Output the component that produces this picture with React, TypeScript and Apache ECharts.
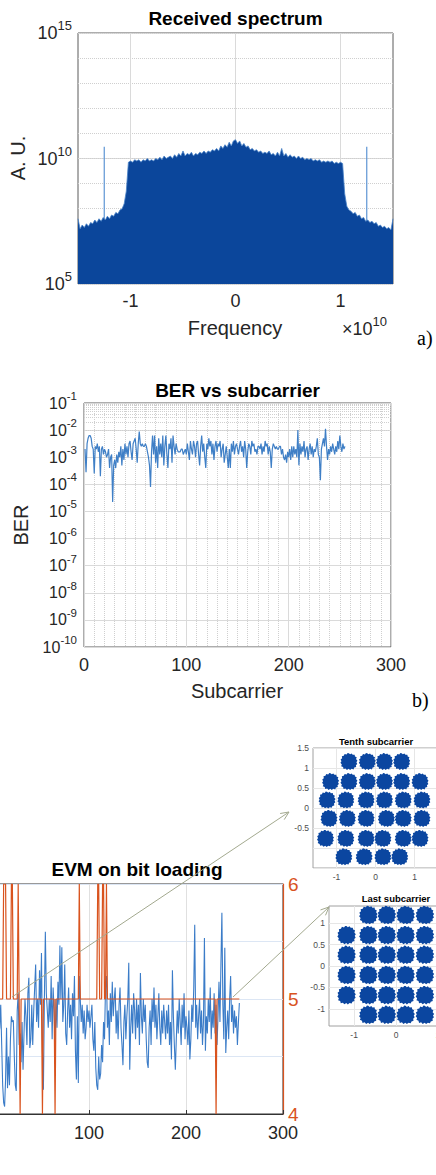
import React, { useEffect, useRef } from "react";
import * as echarts from "echarts";

const SANS = '"Liberation Sans", Arial, Helvetica, sans-serif';
const SERIF = '"Liberation Serif", "Times New Roman", serif';

// ---------------- a) Received spectrum ----------------
const spectrumStartHz = -1.5e10;
const spectrumStepHz = 0.02e10;
// log10 of the received power, one value per 0.02e10 Hz from -1.5e10 to 1.5e10
const spectrumLog10 = [
  7.6, 7.2, 7.35, 7.25, 7.4, 7.3, 7.45, 7.4, 7.55, 7.45,
  7.6, 7.5, 7.65, 7.55, 7.7, 7.6, 7.75, 7.7, 7.85, 7.8,
  7.95, 8.0, 8.2, 8.7, 9.85,
  9.9, 9.85, 9.95, 9.9, 9.95, 9.85, 9.95, 9.9, 10.0, 9.9,
  9.95, 9.9, 10.0, 9.95, 10.05, 9.95, 10.1, 10.0, 10.05, 10.1,
  10.0, 10.15, 10.05, 10.2, 10.1, 10.3, 10.1, 10.2, 10.15, 10.25,
  10.1, 10.2, 10.15, 10.25, 10.2, 10.3, 10.2, 10.3, 10.25, 10.35,
  10.3, 10.4, 10.3, 10.5, 10.4, 10.55, 10.45, 10.65, 10.5, 10.7,
  10.75,
  10.6, 10.7, 10.5, 10.6, 10.45, 10.5, 10.35, 10.4, 10.3, 10.35,
  10.25, 10.3, 10.2, 10.25, 10.2, 10.3, 10.15, 10.2, 10.1, 10.25,
  10.1, 10.4, 10.1, 10.2, 10.05, 10.15, 10.05, 10.1, 10.0, 10.1,
  10.0, 10.05, 9.95, 10.0, 9.95, 10.0, 9.9, 9.95, 9.9, 9.95,
  9.85, 9.9, 9.85, 9.9, 9.85, 9.9, 9.8, 9.85, 9.8, 9.85,
  9.8,
  8.6, 8.1, 7.95, 7.9, 7.8, 7.85, 7.7, 7.75, 7.6, 7.65,
  7.5, 7.55, 7.45, 7.5, 7.4, 7.45, 7.3, 7.35, 7.25, 7.3,
  7.2, 7.25, 7.15, 7.6,
];
const pilotFreqsHz = [-1.25e10, 1.25e10];
const pilotPeakLog10 = [10.47, 10.47];

// ---------------- b) BER vs subcarrier ----------------
// log10(BER) for subcarriers 1..255
const berLog10 = [
  -2.7, -3.55, -2.5, -2.3, -2.2, -2.2, -2.3, -2.6, -2.7, -3.6, -2.6, -2.7, -2.5, -2.8, -2.6,
  -3.7, -2.7, -2.6, -2.9, -2.7, -2.8, -3.0, -2.9, -2.7, -3.4, -3.0, -2.9, -4.65, -3.3, -3.1,
  -3.4, -2.9, -3.2, -2.8, -3.0, -2.6, -3.3, -2.7, -3.1, -2.5, -2.9, -2.6, -3.0, -2.5, -2.4,
  -2.8, -3.1, -2.5, -2.4, -2.3, -2.7, -3.2, -2.5, -2.05, -2.5, -2.6, -2.5, -2.6, -2.6, -2.5,
  -2.6, -2.8, -3.0, -3.3, -4.1, -2.8, -2.2, -2.9, -2.2, -3.2, -2.6, -3.4, -2.3, -2.9, -2.5,
  -3.0, -2.2, -3.3, -2.6, -2.2, -2.9, -3.4, -2.5, -2.7, -2.3, -3.2, -2.2, -2.6, -2.9, -2.5,
  -2.7, -2.8, -2.8, -2.8, -2.7, -2.7, -2.9, -2.8, -2.7, -2.9, -2.5, -2.8, -3.1, -2.4, -2.7,
  -2.9, -2.4, -2.6, -3.0, -2.5, -2.4, -2.9, -3.3, -2.6, -2.2, -2.8, -2.5, -3.0, -3.4, -2.5,
  -2.7, -2.3, -2.6, -2.4, -2.9, -2.5, -3.1, -2.6, -2.4, -2.8, -2.5, -2.6, -2.4, -3.0, -2.7,
  -2.5, -3.2, -2.9, -2.6, -3.0, -3.4, -2.7, -3.4, -2.5, -2.8, -2.4, -2.9, -2.6, -2.5, -2.7,
  -2.9, -2.6, -2.4, -2.8, -2.6, -3.0, -2.4, -2.7, -3.4, -2.8, -2.5, -2.6, -2.9, -2.4, -2.6,
  -2.5, -2.8, -2.7, -2.9, -2.6, -2.6, -2.7, -2.5, -2.9, -2.6, -2.8, -2.4, -2.6, -2.5, -2.9,
  -2.6, -2.8, -3.4, -2.7, -2.5, -2.6, -2.7, -2.6, -2.7, -2.7, -2.6, -2.6, -2.9, -2.7, -3.0,
  -3.1, -2.9, -3.2, -2.8, -3.0, -2.7, -3.1, -2.6, -3.0, -2.6, -2.9, -2.7, -3.0, -2.0, -3.3,
  -2.5, -2.9, -2.6, -2.8, -2.4, -3.0, -2.7, -2.6, -3.1, -2.7, -2.5, -2.9, -2.6, -3.0, -2.7,
  -2.8, -2.6, -2.3, -2.9, -3.0, -3.85, -2.7, -2.5, -2.3, -2.6, -1.95, -2.6, -3.1, -2.7, -2.9,
  -2.6, -2.8, -2.5, -2.7, -2.9, -2.6, -2.8, -2.4, -2.7, -2.2, -2.6, -2.8, -2.5, -2.7, -2.6,
];
const berMinorMultipliers = [2, 3, 4, 5, 6, 7, 8, 9];
const berDecades = [-10, -9, -8, -7, -6, -5, -4, -3, -2];

// ---------------- c) EVM on bit loading ----------------
// EVM (left axis, arbitrary units) for subcarriers 1..255
const evmValues = [
  1.5, 1.7, 1.3, 1.8, 1.2, 1.6, 1.4, 1.5, 1.9, 1.2, 0.5, 0.2, 0.13, 0.6, 1.5,
  0.45, 1.0, 0.5, 1.3, 1.7, 1.6, 1.63, 1.0, 0.5, 0.4, 1.8, 2.1, 1.2, 1.4, 0.9,
  1.6, 0.77, 1.4, 2.0, 1.7, 1.2, 2.1, 2.37, 1.15, 1.3, 1.9, 1.2, 1.8, 2.2, 2.6,
  1.6, 2.0, 1.5, 2.5, 1.9, 2.8, 1.1, 0.42, 2.0, 3.17, 2.1, 1.8, 1.5, 2.0, 1.6,
  2.4, 1.3, 2.2, 1.8, 1.2, 2.0, 1.5, 2.3, 1.9, 2.93, 2.0, 2.9, 1.6, 1.9, 2.6,
  1.4, 1.2, 1.8, 2.2, 1.5, 1.9, 1.3, 2.1, 1.7, 2.4, 1.1, 0.6, 1.7, 0.54, 2.4,
  2.0, 1.6, 1.9, 1.4, 1.8, 1.3, 1.5, 1.9, 1.6, 1.8, 1.5, 1.7, 1.9, 1.3, 1.1,
  1.6, 0.8, 0.5, 0.42, 1.0, 0.6, 0.7, 1.2, 0.9, 1.6, 1.3, 2.2, 2.4, 1.5, 1.8,
  1.2, 2.1, 1.6, 2.3, 1.7, 2.0, 2.2, 1.4, 1.8, 1.3, 1.9, 2.2, 1.5, 1.2, 0.85,
  1.6, 1.9, 1.3, 1.7, 2.0, 2.63, 0.77, 1.5, 1.9, 1.4, 2.1, 1.8, 1.3, 2.0, 1.5,
  1.9, 1.2, 2.45, 1.7, 1.4, 2.0, 1.6, 1.9, 1.3, 0.9, 0.8, 1.5, 1.8, 1.2, 2.0,
  1.6, 2.2, 1.5, 1.9, 1.3, 1.7, 2.1, 1.5, 1.2, 1.8, 1.4, 1.9, 1.6, 1.3, 1.8,
  1.4, 1.9, 1.2, 1.6, 0.95, 2.5, 1.7, 1.2, 0.77, 1.3, 1.8, 1.4, 2.0, 1.6, 1.2,
  1.9, 1.5, 2.1, 1.3, 1.7, 1.5, 1.2, 1.8, 0.95, 1.3, 1.9, 1.6, 2.2, 3.29, 1.5,
  1.9, 1.3, 1.7, 2.0, 1.4, 1.8, 1.2, 1.6, 3.06, 1.1, 1.7, 1.4, 2.0, 1.6, 2.2,
  1.3, 1.8, 1.5, 2.1, 1.4, 1.9, 1.2, 1.7, 2.3, 1.6, 2.6, 3.5, 1.9, 1.3, 2.89,
  1.06, 1.5, 1.8, 1.3, 2.0, 2.4, 1.6, 1.9, 1.4, 1.8, 1.5, 1.7, 1.2, 1.58, 1.93,
];
// bits per symbol (right axis) for subcarriers 1..255
const bitLoading = [
  5, 5, 5, 5, 5, 5, 5, 5, 5, 5, 5, 6, 6, 6, 5,
  5, 5, 5, 5, 6, 6, 5, 5, 5, 5, 5, 6, 5, 4, 5,
  5, 5, 5, 5, 5, 5, 5, 5, 5, 5, 5, 5, 5, 5, 5,
  5, 5, 5, 5, 5, 5, 4, 5, 5, 5, 5, 5, 5, 5, 5,
  5, 5, 5, 5, 4, 5, 5, 5, 5, 5, 5, 5, 5, 5, 5,
  5, 5, 5, 5, 5, 5, 5, 5, 5, 5, 5, 5, 5, 5, 6,
  5, 5, 5, 5, 5, 5, 5, 5, 5, 5, 5, 5, 5, 5, 5,
  5, 5, 5, 6, 6, 5, 5, 5, 6, 6, 5, 5, 6, 5, 5,
  5, 5, 5, 5, 5, 5, 5, 5, 5, 5, 5, 5, 5, 5, 5,
  5, 5, 5, 5, 5, 5, 5, 5, 5, 5, 5, 5, 5, 5, 5,
  5, 5, 5, 5, 5, 5, 5, 5, 5, 5, 5, 5, 5, 5, 5,
  5, 5, 5, 5, 5, 5, 5, 5, 5, 5, 5, 5, 5, 5, 5,
  5, 5, 5, 5, 5, 5, 5, 5, 5, 5, 5, 5, 5, 5, 5,
  5, 5, 5, 5, 5, 5, 5, 5, 5, 5, 5, 5, 5, 5, 5,
  5, 5, 5, 5, 5, 5, 5, 5, 5, 5, 5, 5, 5, 5, 5,
  5, 5, 5, 5, 5, 4, 5, 5, 5, 5, 5, 5, 5, 5, 5,
  5, 5, 5, 5, 5, 5, 5, 5, 5, 5, 5, 5, 5, 5, 5,
];

// ---------------- constellation insets (cluster centres) ----------------
const tenthClusters = [
  [-0.68, 1.16], [-0.21, 1.16], [0.23, 1.16], [0.67, 1.16],
  [-1.15, 0.66], [-0.68, 0.66], [-0.21, 0.66], [0.23, 0.66], [0.67, 0.66], [1.14, 0.66],
  [-1.24, 0.2], [-0.76, 0.2], [-0.24, 0.2], [0.23, 0.2], [0.71, 0.2], [1.19, 0.2],
  [-1.19, -0.26], [-0.72, -0.26], [-0.24, -0.26], [0.28, -0.26], [0.71, -0.26], [1.19, -0.26],
  [-1.28, -0.76], [-0.76, -0.76], [-0.24, -0.76], [0.19, -0.76], [0.71, -0.76], [1.14, -0.76],
  [-0.81, -1.22], [-0.29, -1.22], [0.19, -1.22], [0.62, -1.22],
];
const lastClusters = [
  [-0.66, 1.19], [-0.22, 1.19], [0.23, 1.19], [0.69, 1.19],
  [-1.18, 0.72], [-0.66, 0.72], [-0.22, 0.72], [0.23, 0.72], [0.69, 0.72], [1.17, 0.72],
  [-1.18, 0.26], [-0.66, 0.26], [-0.22, 0.26], [0.23, 0.26], [0.69, 0.26], [1.17, 0.26],
  [-1.18, -0.21], [-0.66, -0.21], [-0.22, -0.21], [0.23, -0.21], [0.69, -0.21], [1.17, -0.21],
  [-1.18, -0.68], [-0.66, -0.68], [-0.22, -0.68], [0.23, -0.68], [0.69, -0.68], [1.17, -0.68],
  [-0.66, -1.14], [-0.22, -1.14], [0.23, -1.14], [0.69, -1.14],
];

const BLOB =
  "path://M50,3 L57,9 L66,4 L72,12 L83,11 L85,21 L95,26 L91,36 L99,45 L93,53 L98,63 L90,70 L92,81 L81,84 L77,94 L66,91 L57,98 L49,91 L39,97 L31,89 L20,92 L17,81 L6,76 L10,66 L2,57 L8,48 L3,38 L12,31 L10,20 L21,17 L26,7 L37,10 L43,2 Z";

const T = "rgba(0,0,0,0)";
const AXIS_TXT = "#262626";
const GRID_MAJOR = "#dadada";
const GRID_MINOR = "#cfcfcf";
const BOX = "#5a5a5a";
const LINE_BLUE = "#3f7fc6";
const RED = "#d9531e";

function arrow(x1: number, y1: number, x2: number, y2: number) {
  const color = "#a3a98f";
  const a = Math.atan2(y2 - y1, x2 - x1);
  const L = 9;
  const w = 0.42;
  const p1 = [x2 - L * Math.cos(a - w), y2 - L * Math.sin(a - w)];
  const p2 = [x2 - L * Math.cos(a + w), y2 - L * Math.sin(a + w)];
  return [
    { type: "line", z: 100, shape: { x1, y1, x2, y2 }, style: { stroke: color, lineWidth: 1 } },
    { type: "polyline", z: 100, shape: { points: [p1, [x2, y2], p2] }, style: { stroke: color, fill: null, lineWidth: 1 } },
  ];
}

function txt(x: number, y: number, text: string, font: string, opts: any = {}) {
  return {
    type: "text",
    x,
    y,
    z: 100,
    rotation: opts.rotation || 0,
    style: {
      text,
      font,
      fill: opts.fill || "#000",
      textAlign: opts.align || "center",
      textVerticalAlign: "middle",
      rich: opts.rich,
    },
  };
}

export default function App() {
  const ref = useRef<HTMLDivElement>(null);
  useEffect(() => {
    if (!ref.current) return;
    const chart = echarts.init(ref.current, undefined, { renderer: "svg" });

    const specData = spectrumLog10.map((v, i) => [spectrumStartHz + i * spectrumStepHz, Math.pow(10, v)]);
    const berData = berLog10.map((v, i) => [i + 1, Math.pow(10, v)]);
    const evmData = evmValues.map((v, i) => [i + 1, v]);
    const bitData = bitLoading.map((v, i) => [i + 1, v]);
    const berMinor: number[] = [];
    berDecades.forEach((d) => berMinorMultipliers.forEach((m) => berMinor.push(m * Math.pow(10, d))));

    const logFmt = (v: number) => "{b|10}{s|" + Math.round(Math.log10(v)) + "}";

    const insetAxisLabel = { color: "#4d4d4d", fontSize: 8.5, fontFamily: SANS, margin: 4 };
    const gridBase = { show: true, borderWidth: 1, containLabel: false, outerBoundsMode: "none" };

    const option: any = {
      animation: false,
      backgroundColor: "#fff",
      textStyle: { fontFamily: SANS },
      grid: [
        { ...gridBase, left: 78, top: 33, width: 315, height: 251, borderColor: BOX },
        { ...gridBase, left: 84, top: 403, width: 307, height: 244, borderColor: BOX },
        { ...gridBase, left: -8, top: 884, width: 291, height: 230, borderColor: "#333" },
        { ...gridBase, left: 313, top: 748, width: 125, height: 120, borderColor: "#a0a0a0" },
        { ...gridBase, left: 329, top: 906, width: 134, height: 120, borderColor: "#a0a0a0" },
      ],
      xAxis: [
        {
          gridIndex: 0, type: "value", min: -1.5e10, max: 1.5e10, interval: 0.5e10,
          axisLine: { show: false }, axisTick: { show: false },
          axisLabel: {
            color: AXIS_TXT, fontSize: 18, margin: 8,
            formatter: (v: number) => (Math.abs(v / 1e10 - Math.round(v / 1e10)) < 1e-6 ? String(Math.round(v / 1e10)) : ""),
          },
          splitLine: { show: true, lineStyle: { color: [T, GRID_MAJOR], width: 1 } },
        },
        {
          gridIndex: 1, type: "value", min: 0, max: 300, interval: 100,
          axisLine: { show: false }, axisTick: { show: false },
          axisLabel: { color: AXIS_TXT, fontSize: 18, margin: 9 },
          splitLine: { show: true, lineStyle: { color: GRID_MAJOR } },
          minorTick: { show: false, splitNumber: 10 },
          minorSplitLine: { show: true, lineStyle: { color: GRID_MINOR, type: "dotted" } },
        },
        {
          gridIndex: 2, type: "value", min: 0, max: 300, interval: 100,
          axisLine: { show: true, lineStyle: { color: "#333" } },
          axisTick: { show: true, inside: true, length: 4, lineStyle: { color: "#333" } },
          axisLabel: { color: AXIS_TXT, fontSize: 18, margin: 10, formatter: (v: number) => (v === 0 ? "" : String(v)) },
          splitLine: { show: true, lineStyle: { color: "#e0e0e0" } },
        },
        {
          gridIndex: 3, type: "value", min: -1.6, max: 1.6, interval: 0.2,
          axisLine: { show: false }, axisTick: { show: false },
          axisLabel: { ...insetAxisLabel, formatter: (v: number) => (Math.abs(v - Math.round(v)) < 1e-6 ? String(Math.round(v)) : "") },
          splitLine: { show: true, lineStyle: { color: [T, T, T, "#e6e6e6", T] } },
        },
        {
          gridIndex: 4, type: "value", min: -1.6, max: 1.6, interval: 0.2,
          axisLine: { show: false }, axisTick: { show: false },
          axisLabel: { ...insetAxisLabel, formatter: (v: number) => (Math.abs(v - Math.round(v)) < 1e-6 ? String(Math.round(v)) : "") },
          splitLine: { show: true, lineStyle: { color: [T, T, T, "#e6e6e6", T] } },
        },
      ],
      yAxis: [
        {
          gridIndex: 0, type: "log", logBase: 10, min: 1e5, max: 1e15, interval: 5, splitNumber: 2,
          axisLine: { show: false }, axisTick: { show: false },
          axisLabel: {
            color: AXIS_TXT, margin: 6, formatter: logFmt,
            rich: {
              b: { fontSize: 18, color: AXIS_TXT, fontFamily: SANS },
              s: { fontSize: 13, color: AXIS_TXT, fontFamily: SANS, padding: [0, 0, 15, 0] },
            },
          },
          splitLine: { show: true, lineStyle: { color: GRID_MAJOR } },
        },
        {
          gridIndex: 0, type: "value", min: 5, max: 15, interval: 1, position: "left",
          axisLine: { show: false }, axisTick: { show: false }, axisLabel: { show: false },
          splitLine: { show: true, lineStyle: { color: GRID_MINOR, type: "dotted" } },
        },
        {
          gridIndex: 1, type: "log", logBase: 10, min: 1e-10, max: 1e-1, interval: 1, splitNumber: 9,
          axisLine: { show: false }, axisTick: { show: false },
          axisLabel: {
            color: AXIS_TXT, margin: 7, formatter: logFmt,
            rich: {
              b: { fontSize: 16, color: AXIS_TXT, fontFamily: SANS },
              s: { fontSize: 11.5, color: AXIS_TXT, fontFamily: SANS, padding: [0, 0, 14, 0] },
            },
          },
          splitLine: { show: true, lineStyle: { color: GRID_MAJOR } },
        },
        {
          gridIndex: 2, type: "value", min: 0, max: 4, interval: 1, position: "left",
          axisLine: { show: false }, axisTick: { show: false }, axisLabel: { show: false },
          splitLine: { show: true, lineStyle: { color: "#dce6f4" } },
        },
        {
          gridIndex: 2, type: "value", min: 4, max: 6, interval: 1, position: "right",
          axisLine: { show: true, lineStyle: { color: RED, width: 1.2 } },
          axisTick: { show: false },
          axisLabel: { color: RED, fontSize: 19, margin: 5 },
          splitLine: { show: false },
        },
        {
          gridIndex: 3, type: "value", min: -1.5, max: 1.5, interval: 0.5,
          axisLine: { show: false }, axisTick: { show: false },
          axisLabel: { ...insetAxisLabel, formatter: (v: number) => (v < -0.75 ? "" : String(v)) },
          splitLine: { show: true, lineStyle: { color: "#e6e6e6" } },
        },
        {
          gridIndex: 4, type: "value", min: -1.4, max: 1.4, interval: 0.1,
          axisLine: { show: false }, axisTick: { show: false },
          axisLabel: {
            ...insetAxisLabel,
            formatter: (v: number) => (Math.abs(v * 2 - Math.round(v * 2)) < 1e-6 ? String(Math.round(v * 2) / 2) : ""),
          },
          splitLine: { show: true, lineStyle: { color: [T, T, T, T, "#e6e6e6"] } },
        },
      ],
      series: [
        ...pilotFreqsHz.map((f, i) => ({
          type: "line", xAxisIndex: 0, yAxisIndex: 0, z: 1, symbol: "none", silent: true,
          data: [[f, 1e5], [f, Math.pow(10, pilotPeakLog10[i])]],
          lineStyle: { color: "#5d95d4", width: 1.2 },
        })),
        {
          type: "line", xAxisIndex: 0, yAxisIndex: 0, z: 3, symbol: "none", silent: true,
          data: specData,
          lineStyle: { color: "#4a83c6", width: 0.8 },
          areaStyle: { color: "#0b469b", opacity: 1, origin: "start" },
        },
        {
          type: "line", xAxisIndex: 1, yAxisIndex: 2, z: 3, symbol: "none", silent: true,
          data: berData,
          lineStyle: { color: LINE_BLUE, width: 1.2 },
          markLine: {
            silent: true, symbol: "none", z: 1, animation: false,
            label: { show: false },
            lineStyle: { color: GRID_MINOR, type: "dotted", width: 1 },
            emphasis: { disabled: true },
            data: berMinor.map((v) => ({ yAxis: v })),
          },
        },
        {
          type: "line", xAxisIndex: 2, yAxisIndex: 3, z: 3, symbol: "none", silent: true,
          data: evmData,
          lineStyle: { color: "#3b7cc8", width: 1.1 },
        },
        {
          type: "line", xAxisIndex: 2, yAxisIndex: 4, z: 4, symbol: "none", silent: true,
          data: bitData,
          lineStyle: { color: RED, width: 1.2 },
        },
        {
          type: "scatter", xAxisIndex: 3, yAxisIndex: 5, symbol: BLOB, symbolSize: 17, silent: true,
          itemStyle: { color: "#0b46a0", opacity: 1 },
          data: tenthClusters,
        },
        {
          type: "scatter", xAxisIndex: 4, yAxisIndex: 6, symbol: BLOB, symbolSize: 18.5, silent: true,
          itemStyle: { color: "#0b46a0", opacity: 1 },
          data: lastClusters,
        },
      ],
      graphic: [
        txt(235.5, 18, "Received spectrum", `bold 19px ${SANS}`),
        txt(18, 158, "A. U.", `20px ${SANS}`, { rotation: Math.PI / 2, fill: AXIS_TXT }),
        txt(235, 328, "Frequency", `20px ${SANS}`, { fill: AXIS_TXT }),
        txt(342, 329, "{a|\u00d710}{b|10}", `18px ${SANS}`, {
          align: "left",
          fill: AXIS_TXT,
          rich: {
            a: { fontSize: 18, fontFamily: SANS, fill: AXIS_TXT },
            b: { fontSize: 13, fontFamily: SANS, fill: AXIS_TXT, padding: [0, 0, 15, 0] },
          },
        }),
        txt(417, 338, "a)", `20px ${SERIF}`, { align: "left" }),
        txt(237.5, 390, "BER vs subcarrier", `bold 19px ${SANS}`),
        txt(21, 525, "BER", `20px ${SANS}`, { rotation: Math.PI / 2, fill: AXIS_TXT }),
        txt(237, 691, "Subcarrier", `20px ${SANS}`, { fill: AXIS_TXT }),
        txt(412, 700, "b)", `20px ${SERIF}`, { align: "left" }),
        txt(137, 869, "EVM on bit loading", `bold 19px ${SANS}`),
        txt(376, 741, "Tenth subcarrier", `bold 9.5px ${SANS}`),
        txt(396, 898, "Last subcarrier", `bold 9.5px ${SANS}`),
        ...arrow(12, 997, 289, 812),
        ...arrow(233, 997, 329, 907),
      ],
    };

    chart.setOption(option);
    return () => chart.dispose();
  }, []);

  return (
    <div
      ref={ref}
      style={{ position: "absolute", left: 0, top: 0, width: 436, height: 1175, background: "#fff" }}
    />
  );
}
